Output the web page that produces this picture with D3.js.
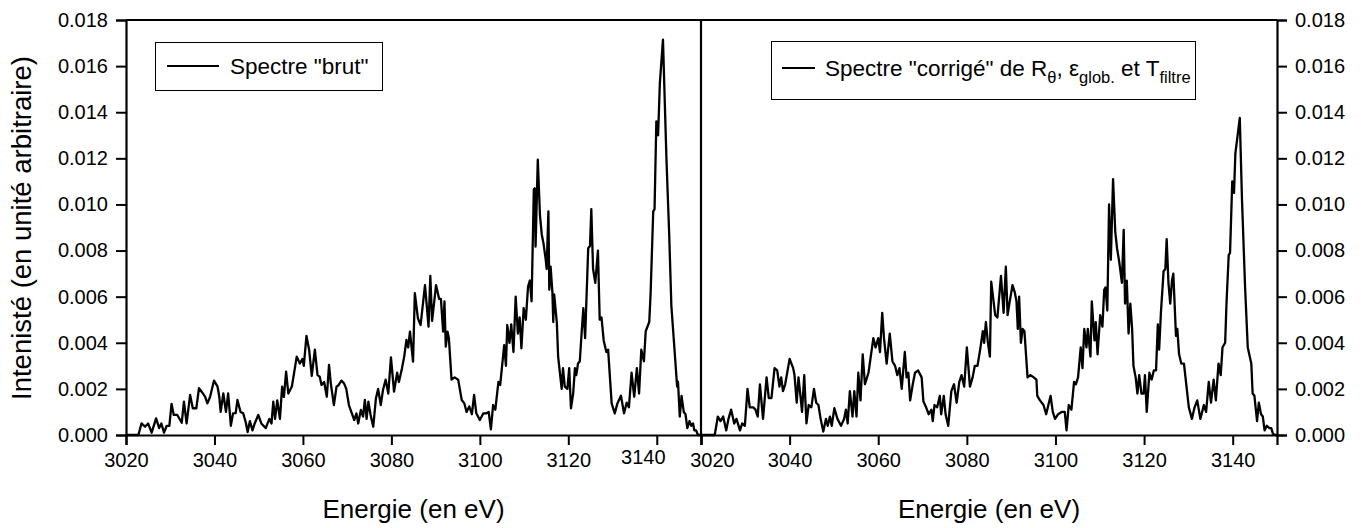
<!DOCTYPE html>
<html><head><meta charset="utf-8">
<script src="https://cdn.jsdelivr.net/npm/d3@7"></script>
<style>
html,body{margin:0;padding:0;background:#fff;}
svg text{font-family:Arial,"Liberation Sans",sans-serif;fill:#000;}
</style></head>
<body><svg id="c" width="1369" height="528"></svg>
<script>
// ---- data (energies in eV, intensities in arbitrary units) ----
const eBrut = [3020,3022.8,3023.5,3024.3,3025,3025.8,3026.8,3027.5,3028,3028.6,3029.2,3029.8,3030.3,3030.8,3031.6,3032.6,3033.1,3033.7,3034.5,3035.1,3035.9,3036.5,3037.4,3037.9,3038.4,3039,3039.9,3040.7,3041.1,3041.4,3042,3042.6,3043.1,3043.7,3044.2,3044.8,3045.2,3045.9,3046.5,3047.1,3047.5,3048,3048.6,3049.1,3049.9,3050.6,3051.6,3052.4,3052.9,3053.3,3053.7,3054.2,3054.8,3055.3,3055.7,3056.2,3056.7,3057.5,3058.6,3059.3,3059.9,3060.2,3060.8,3061.4,3062,3062.7,3063.3,3063.8,3064.2,3064.8,3065.4,3065.9,3066.3,3067,3067.6,3068.1,3068.7,3069.3,3069.8,3070.4,3071,3071.6,3072.1,3072.5,3073.1,3073.6,3074,3074.4,3074.8,3075.3,3075.9,3076.5,3077,3077.6,3078.1,3078.7,3079.3,3079.9,3080.6,3081.3,3081.7,3082.4,3082.9,3083.4,3083.8,3084.2,3084.9,3085.3,3086,3086.6,3087.6,3088.4,3088.8,3089.2,3090.1,3090.8,3091.2,3091.7,3092,3092.3,3092.7,3093,3093.6,3094.3,3095.1,3095.9,3096.5,3097,3097.6,3098.2,3098.7,3099.2,3100,3100.8,3101.5,3102,3102.5,3103,3103.5,3104.2,3104.6,3105.5,3105.9,3106.2,3106.7,3107.1,3107.6,3108.1,3108.6,3109,3109.4,3109.9,3110.4,3110.9,3111.3,3111.7,3112.2,3112.4,3112.6,3113.1,3113.6,3114,3114.4,3114.9,3115.1,3115.5,3115.7,3116,3116.4,3116.6,3116.8,3117.4,3117.7,3118.5,3118.8,3119.2,3119.8,3120.2,3120.6,3121.1,3121.5,3121.8,3122.2,3122.6,3123,3123.4,3123.8,3124.5,3124.9,3125.2,3125.6,3126.1,3126.7,3127.1,3127.5,3128,3128.6,3129,3129.8,3130.5,3131.1,3131.9,3132.6,3133.2,3133.7,3134.3,3134.9,3135.5,3136,3136.5,3137.1,3137.5,3138.3,3138.6,3139.2,3139.5,3139.9,3140.3,3140.7,3141.4,3142.2,3142.8,3143.3,3143.9,3144.6,3144.8,3145.2,3145.6,3146.1,3146.5,3146.9,3147.4,3147.8,3148.2,3148.5,3148.9,3149.3,3150];
const vBrut = [0,0,0.0005,0.00036,0.0005,0.0001,0.00072,0.0003,0.0005,0.0001,0.0004,0.0004,0.00135,0.00087,0.00087,0.00053,0.00145,0.0005,0.00174,0.00116,0.00116,0.00203,0.0018,0.00165,0.00137,0.00165,0.00236,0.0021,0.00165,0.001,0.0018,0.001,0.0018,0.0004,0.00094,0.00095,0.00152,0.001,0.00094,0.00053,0.00013,0.0006,0.0002,0.0005,0.00087,0.0005,0.0003,0.0007,0.0005,0.00145,0.0007,0.0015,0.0007,0.0021,0.00165,0.00275,0.0018,0.0021,0.0034,0.0031,0.0033,0.003,0.0043,0.0037,0.00256,0.0037,0.0026,0.00253,0.00217,0.0023,0.00166,0.00304,0.00224,0.0013,0.0021,0.00217,0.00236,0.00224,0.002,0.0013,0.00097,0.00065,0.00094,0.0005,0.00109,0.0008,0.00152,0.0007,0.00145,0.00087,0.00036,0.00158,0.002,0.0013,0.00195,0.0024,0.0018,0.00337,0.00188,0.0027,0.0023,0.0029,0.0034,0.00412,0.0038,0.00448,0.00318,0.00615,0.00506,0.00477,0.0065,0.0047,0.0069,0.00495,0.0065,0.0059,0.0059,0.00448,0.0058,0.00383,0.00448,0.0042,0.0024,0.0025,0.0024,0.00152,0.00137,0.001,0.00124,0.0009,0.00174,0.00094,0.00065,0.00094,0.00094,0.001,0.00025,0.0013,0.0011,0.0023,0.00217,0.0039,0.003,0.00477,0.004,0.0048,0.0036,0.006,0.0044,0.0051,0.00376,0.0055,0.005,0.00644,0.0067,0.0058,0.01063,0.0107,0.00817,0.01194,0.0095,0.0087,0.0083,0.0076,0.0072,0.0097,0.0063,0.0073,0.0062,0.0049,0.0061,0.0049,0.0034,0.002,0.0029,0.0021,0.002,0.0029,0.00116,0.0018,0.0029,0.0026,0.0031,0.0032,0.0044,0.0055,0.0042,0.0081,0.0082,0.0098,0.0072,0.0066,0.008,0.005,0.0051,0.0041,0.0036,0.0037,0.00137,0.00094,0.00137,0.0017,0.00094,0.0014,0.0012,0.0027,0.00166,0.0029,0.0018,0.0037,0.0032,0.0045,0.0049,0.0061,0.0097,0.0098,0.0136,0.013,0.01526,0.01715,0.0119,0.00876,0.0056,0.004,0.0021,0.0023,0.0008,0.0017,0.001,0.0009,0.0003,0.0006,0.0004,0.0005,0.0002,0.0002,0,0];

const eCorr = [3020,3023.1,3023.8,3024.4,3025,3025.7,3026.2,3026.8,3027.5,3028,3028.8,3029.3,3029.9,3030.5,3031,3031.8,3032.3,3032.8,3033.3,3034,3034.8,3035.3,3035.9,3036.6,3037.2,3037.7,3038.1,3038.5,3039,3040,3040.8,3041.1,3041.6,3042,3042.5,3042.8,3043.3,3043.8,3044.3,3044.9,3045.5,3046,3046.5,3047,3047.6,3048.2,3048.6,3049.1,3049.5,3050.1,3050.8,3051.6,3052.3,3052.7,3053.1,3053.6,3054.2,3054.6,3055.1,3055.5,3056,3056.5,3057,3057.8,3058.9,3059.4,3060,3060.4,3060.9,3061.3,3061.9,3062.6,3063.2,3063.8,3064.3,3064.8,3065.3,3066,3066.4,3066.8,3067.2,3067.8,3068.3,3069,3069.8,3070.2,3070.8,3071.4,3072,3072.3,3072.7,3073.3,3073.9,3074.2,3074.8,3075.2,3075.8,3076.5,3077.1,3077.7,3078.3,3078.8,3079.4,3080,3080.7,3081.3,3081.8,3082.4,3083,3083.6,3083.9,3084.3,3084.7,3085.2,3085.5,3086.4,3086.9,3087.7,3088.3,3088.8,3089.2,3089.6,3090.3,3090.8,3091.2,3091.5,3091.8,3092.2,3092.6,3093,3093.7,3094.3,3095.1,3095.7,3095.9,3096.5,3097.3,3097.9,3098.4,3098.9,3099.4,3099.9,3100.6,3101.4,3102.1,3102.5,3103,3103.6,3104.2,3104.6,3105.1,3105.7,3106.1,3106.5,3107,3107.3,3107.9,3108.2,3108.8,3109.1,3109.5,3110.1,3110.6,3111,3111.3,3111.7,3112.1,3112.5,3113,3113.5,3113.9,3114.4,3115,3115.4,3115.7,3116.1,3116.5,3116.9,3117.3,3117.6,3118.1,3118.5,3118.9,3119.4,3119.9,3120.2,3120.6,3121.2,3121.7,3122.2,3122.7,3123.1,3123.4,3123.8,3124.4,3124.8,3125.1,3125.5,3125.9,3126.3,3126.6,3127.2,3127.5,3127.9,3128.4,3129,3130.1,3130.8,3131.4,3132,3132.7,3133.5,3134,3134.6,3135.1,3135.7,3136.2,3136.8,3137.3,3137.7,3138.3,3138.6,3139.1,3139.4,3139.9,3140.3,3140.6,3141.6,3142.1,3142.8,3143.4,3144.2,3144.5,3144.9,3145.5,3145.9,3146.4,3146.8,3147.2,3147.7,3148.3,3148.7,3149.1,3149.6,3150];
const vCorr = [0,0,0.0008,0.0006,0.0008,0.0002,0.0007,0.0011,0.0005,0.0007,0.0002,0.0005,0.0004,0.002,0.0012,0.0012,0.0011,0.0008,0.0022,0.0007,0.0025,0.0016,0.0016,0.0029,0.0028,0.0021,0.0025,0.0019,0.0022,0.0033,0.0029,0.0026,0.0014,0.0025,0.0016,0.001,0.0026,0.0005,0.0013,0.0012,0.002,0.0014,0.0013,0.0007,0.00015,0.0007,0.0004,0.0008,0.0004,0.00116,0.0007,0.0004,0.0007,0.0011,0.0005,0.0019,0.0008,0.0019,0.0008,0.0027,0.0015,0.0035,0.0022,0.0027,0.0042,0.0038,0.0042,0.0036,0.0053,0.0042,0.0031,0.0044,0.0032,0.003,0.0026,0.0029,0.002,0.0036,0.0025,0.0027,0.0015,0.0022,0.0027,0.0028,0.0025,0.00145,0.0012,0.0009,0.0011,0.0006,0.0013,0.0012,0.0017,0.0009,0.0017,0.0009,0.0004,0.0019,0.0022,0.0014,0.0023,0.0026,0.0021,0.0038,0.0021,0.0025,0.003,0.003,0.0037,0.0045,0.004,0.0049,0.0041,0.0034,0.00665,0.0052,0.0051,0.0069,0.0053,0.0073,0.0052,0.0057,0.0065,0.0062,0.0058,0.0046,0.006,0.004,0.0046,0.0045,0.0025,0.0026,0.0025,0.0024,0.0017,0.0015,0.0013,0.0009,0.0013,0.0017,0.001,0.0007,0.0009,0.001,0.001,0.0002,0.0013,0.0011,0.0023,0.0022,0.0025,0.0038,0.0029,0.0046,0.0038,0.0046,0.0034,0.0058,0.0041,0.0049,0.0035,0.0052,0.0047,0.0063,0.0064,0.0054,0.01,0.0076,0.0111,0.0088,0.0081,0.0075,0.0066,0.0089,0.0057,0.0067,0.0044,0.0057,0.0046,0.003,0.0025,0.0018,0.0026,0.0018,0.0018,0.0026,0.001,0.0027,0.0024,0.0028,0.0028,0.0048,0.0037,0.0053,0.0071,0.0072,0.0085,0.0066,0.0057,0.0067,0.007,0.0043,0.0046,0.0035,0.0031,0.0031,0.0012,0.0007,0.0012,0.0015,0.0007,0.0013,0.001,0.0023,0.0014,0.0024,0.0015,0.0031,0.0026,0.0038,0.004,0.0057,0.0078,0.0079,0.011,0.0105,0.0122,0.01375,0.0102,0.0064,0.0038,0.0031,0.0018,0.0017,0.0006,0.0014,0.0009,0.0008,0.0002,0.0004,0.0003,0.0003,0.00005,0,0];

const xTicks = [3020,3040,3060,3080,3100,3120,3140];
const yTicks = [0,0.002,0.004,0.006,0.008,0.010,0.012,0.014,0.016,0.018];
const xDomain = [3020,3150];
const yDomain = [0,0.018];
const xTitle = "Energie (en eV)";
const yTitle = "Intenisté (en unité arbitraire)";
const legendBrut = 'Spectre "brut"';

if (eBrut.length !== vBrut.length) throw new Error("brut length mismatch " + eBrut.length + " " + vBrut.length);
if (eCorr.length !== vCorr.length) throw new Error("corr length mismatch " + eCorr.length + " " + vCorr.length);

// ---- layout ----
const svg = d3.select("#c");
const plotTop = 20, plotBottom = 435;
const panels = [
  {x0:126, x1:701, e:eBrut, v:vBrut, shift:{3140:[-14,-3]}},
  {x0:701, x1:1277, e:eCorr, v:vCorr, shift:{3020:[11,0]}}
];
const y = d3.scaleLinear().domain(yDomain).range([plotBottom, plotTop]);
const fmt = d3.format(".3f");
const FONT = "Arial, 'Liberation Sans', sans-serif";

panels.forEach(p => {
  const x = d3.scaleLinear().domain(xDomain).range([p.x0, p.x1]);
  const pts = p.e.map((e,i)=>[e,p.v[i]]);
  svg.append("path").datum(pts)
    .attr("fill","none").attr("stroke","#000").attr("stroke-width",2.3)
    .attr("stroke-linejoin","round")
    .attr("d", d3.line().x(d=>x(d[0])).y(d=>y(d[1])));
  const gx = svg.append("g").attr("transform",`translate(0,${plotBottom})`)
    .call(d3.axisBottom(x).tickValues(xTicks).tickSize(10).tickPadding(8).tickFormat(d3.format("d")));
  gx.select(".domain").attr("stroke-width",2.2);
  gx.selectAll(".tick line").attr("stroke-width",2);
  gx.selectAll("text").attr("font-size",20).attr("font-family",FONT)
    .each(function(d){
      const s = p.shift[d];
      if (s) d3.select(this).attr("dx", s[0]).attr("y", 18 + s[1]);
    });
  svg.append("line").attr("x1",p.x0).attr("x2",p.x1).attr("y1",y(yDomain[1])).attr("y2",y(yDomain[1]))
    .attr("stroke","#000").attr("stroke-width",2);
  svg.append("text").attr("x",(p.x0+p.x1)/2).attr("y",518).attr("text-anchor","middle")
    .attr("font-size",26).text(xTitle);
});

const gyl = svg.append("g").attr("transform",`translate(126,0)`)
  .call(d3.axisLeft(y).tickValues(yTicks).tickSize(10).tickPadding(8).tickFormat(fmt));
const gyr = svg.append("g").attr("transform",`translate(1277,0)`)
  .call(d3.axisRight(y).tickValues(yTicks).tickSize(10).tickPadding(8).tickFormat(fmt));
[gyl,gyr].forEach(g=>{
  g.select(".domain").attr("stroke-width",2.2);
  g.selectAll(".tick line").attr("stroke-width",2);
  g.selectAll("text").attr("font-size",20).attr("font-family",FONT);
});
svg.append("line").attr("x1",701).attr("x2",701).attr("y1",y(yDomain[1])).attr("y2",y(0))
  .attr("stroke","#000").attr("stroke-width",2.2);

svg.append("text").attr("transform","translate(31,228) rotate(-90)")
  .attr("text-anchor","middle").attr("font-size",27.5).text(yTitle);

// legend 1
svg.append("rect").attr("x",155.5).attr("y",42.5).attr("width",227).attr("height",48)
  .attr("fill","#fff").attr("stroke","#000").attr("stroke-width",1);
svg.append("line").attr("x1",167).attr("x2",219).attr("y1",66).attr("y2",66)
  .attr("stroke","#000").attr("stroke-width",2.2);
svg.append("text").attr("x",230).attr("y",74).attr("font-size",22.5).text(legendBrut);

// legend 2
svg.append("rect").attr("x",771.5).attr("y",41.5).attr("width",424).attr("height",58)
  .attr("fill","#fff").attr("stroke","#000").attr("stroke-width",1);
svg.append("line").attr("x1",782).attr("x2",815).attr("y1",68).attr("y2",68)
  .attr("stroke","#000").attr("stroke-width",2.2);
const t2 = svg.append("text").attr("x",825).attr("y",76).attr("font-size",22.5);
const parts = [
  ['Spectre "corrigé" de R', false],
  ['θ', true],
  [', ε', false],
  ['glob.', true],
  [' et T', false],
  ['filtre', true]
];
parts.forEach(([s,sub],i)=>{
  const prevSub = i>0 && parts[i-1][1];
  const ts = t2.append("tspan").text(s).attr("dy", sub ? 7 : (prevSub ? -7 : 0));
  if (sub) ts.attr("font-size",16.5);
});
</script>
</body></html>
